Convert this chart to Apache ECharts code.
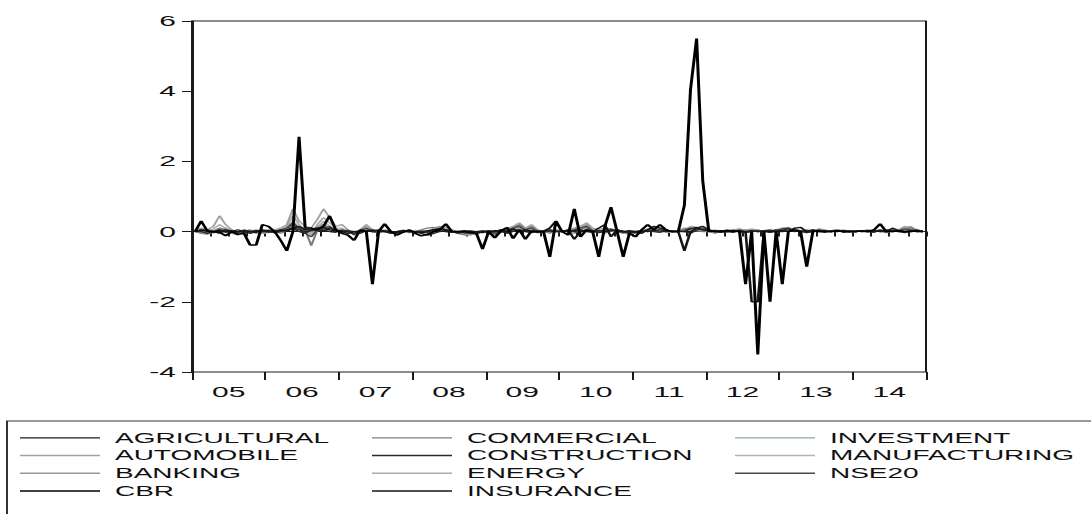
<!DOCTYPE html>
<html>
<head>
<meta charset="utf-8">
<script src="https://cdn.jsdelivr.net/npm/echarts@6/dist/echarts.min.js"></script>
<style>
html,body{margin:0;padding:0;background:#fff;overflow:hidden;}
#c{width:545.5px;height:514px;transform:scaleX(2);transform-origin:0 0;}
</style>
</head>
<body>
<div id="c"></div>
<script>
// monthly observations 2005M01 .. 2014M12
var years = ['2005','2006','2007','2008','2009','2010','2011','2012','2013','2014'];
var yearLabels = ['05','06','07','08','09','10','11','12','13','14'];
var months = [];
years.forEach(function (y) { for (var m = 1; m <= 12; m++) months.push(y + 'M' + (m < 10 ? '0' + m : m)); });

var yTicks = { min: -4, max: 6, interval: 2 };

var AGRICULTURAL = [
 0,0.05,0,-0.03,0,0.05,0.02,0,-0.02,0,0.03,0,
 0.02,0,0.05,0,0.10,0.05,0,0.03,0.05,0.02,0.10,0.05,
 0,0.02,0,-0.05,0.03,0,0.05,0.02,0,-0.03,0,0.02,
 -0.02,0,0.03,0.05,0.02,0,-0.02,0,0.03,0,-0.02,0,
 0,0.03,0,-0.02,0.05,0.03,0,-0.03,0.02,0,0.05,0,
 0.02,0,0.03,0.05,0,-0.02,0.03,0,0.05,0.02,0,-0.03,
 0,0.02,0,0.03,0.05,0,0.02,0,0,0.08,0.12,0.05,
 0.02,0,0.03,0,-0.02,0.02,0,0.03,0,0.02,0,0.05,
 0.03,0.08,0,0.02,0,0.03,0,-0.02,0.02,0,0.03,0,
 0,0.02,0.03,0,0.05,0,0.10,0.03,0,0.02,0.05,0];
var AUTOMOBILE = [
 0.05,0.10,0.05,0.15,0.45,0.20,0.05,0,-0.05,0,0.05,0.02,
 0,0.05,0.10,0.20,0.65,0.30,0.15,0.10,0.35,0.65,0.40,0.15,
 0.20,0.05,-0.05,0.05,0.20,0.05,0,0.05,0,-0.05,0.05,0,
 0.02,0,-0.05,0.10,0.15,0.12,0.05,0,-0.05,-0.10,-0.05,0,
 0.02,-0.05,0.05,0.10,0.15,0.25,0.10,0.20,0.05,0,0.05,0.02,
 0,0.05,0.10,0.15,0.25,0.10,0.05,0.10,0.05,0,-0.05,0,
 0.02,0,0.05,0.10,0.05,0,0.02,0,0.05,0.15,0.12,0.10,
 0.05,0,0.02,0.05,0,0.02,0.05,0.03,0,0.02,0,0.03,
 0.10,0.12,0.05,0,0.05,0.02,0.08,0.05,0,0.02,0.05,0,
 0.02,0,0.05,0.03,0,0.02,0.08,0.05,0.15,0.10,0.02,0];
var BANKING = [
 0,-0.05,-0.08,0,0.05,0.10,0.02,-0.03,-0.05,0,0.02,-0.05,
 -0.03,0,0.02,0.05,0.15,0.05,0.10,0,0.15,0.20,0.10,0.05,
 0,0.02,-0.05,0,0.05,0.02,-0.03,0,0.02,-0.05,0,0.03,
 0,-0.02,0,0.05,0.10,0.08,0,-0.05,-0.10,-0.08,-0.03,0,
 0,-0.08,-0.03,0,0.08,0.15,0.02,0.05,0,-0.03,0,0.02,
 0,0.03,0.05,0.10,0.20,0.05,0,0.02,0.05,-0.02,0,-0.05,
 -0.03,0,0.03,0.05,0,-0.02,0,0.02,0.05,0.08,0.10,0.03,
 0,0.03,0,0.05,0.02,0,0.03,0.05,0.02,0,0.03,0.02,
 0.05,0.08,0.03,0,0.05,0,0.03,0.02,0,0.05,0.02,0,
 0.03,0,0.02,0.05,0,0.03,0.05,0.02,0.08,0.12,0.03,0];
var CBR = [
 0,0.30,0.02,0,-0.02,-0.12,0,-0.08,-0.05,-0.38,-0.38,0.20,
 0.15,0,-0.25,-0.55,0,2.70,0.10,0.10,0.05,0.15,0.45,0.05,
 -0.05,-0.10,-0.25,0.05,0,-1.50,0,0.22,0,-0.10,-0.02,0.05,
 -0.05,-0.12,-0.08,0,0.05,0.22,0,0,0,-0.02,-0.05,-0.50,
 0,-0.18,0.02,0.12,-0.20,0.05,-0.22,0.02,0,-0.02,-0.72,0.30,
 0,-0.10,0.65,-0.15,0.05,0,-0.72,0.15,0.70,0,-0.72,-0.05,
 -0.15,0.05,0.20,0.05,0.20,0.05,0,0,0.75,4.05,5.50,1.45,
 0,0.02,0,0.03,0,0.02,-1.50,0,-3.50,0,-2.00,0,
 -1.50,0,0.05,0,-1.00,0,0.02,0,0,0.02,0,0,
 0,0.02,0,0.05,0.22,0,0,0.02,0,0,0.02,0];
var COMMERCIAL = [
 0,-0.05,0.05,0.02,0.10,0.05,-0.05,-0.10,0,0.05,-0.05,0,
 0.05,0,-0.05,0.02,0.20,0.10,0.05,-0.40,0.05,0.20,0.10,0.05,
 0,0.05,-0.10,0.05,0.10,0,-0.05,0.02,-0.05,0,0.02,-0.03,
 0,0.05,0.10,0.12,0.08,0,0.02,-0.05,-0.08,0,-0.05,0.02,
 0,-0.10,0.05,0,0.10,0.20,0.05,0.15,0.02,0,-0.05,0.05,
 0.03,0,-0.05,0.05,0.15,0,0.02,-0.05,0.05,0,0.02,-0.10,
 -0.05,0,0.08,0.02,0,0.05,0,0.02,0.10,0.05,0.02,0,
 0,-0.05,0.02,0,0.05,-0.03,0,0.02,0.05,0,0.03,0,
 0.05,0,0.10,0.02,0,-0.02,0.05,0,0.03,0.05,0,-0.02,
 0,0.03,0,0.05,0,-0.03,0.02,0,0.05,0.12,0,0];
var CONSTRUCTION = [
 0.02,0,-0.05,0,0.03,-0.02,0,0.05,0,-0.05,0,0.03,
 0,-0.03,0,0.05,0.08,0,-0.05,0.05,0.10,0.05,0,-0.02,
 0.03,0,-0.08,0,0.02,0,0.03,0,-0.05,0,0.02,0,
 0,-0.05,-0.10,-0.05,0,0.03,0,0,-0.03,-0.05,0,0.02,
 -0.02,0,0.03,-0.05,0,0.05,0.02,0,-0.03,0,0.02,0,
 0,0.03,0,-0.02,0.05,0,-0.03,0,0.02,0.05,0,0,
 -0.03,0,0.02,0,-0.02,0.03,0,0.02,0,-0.05,0.05,0.08,
 0.03,0,-0.02,0,0.02,0,-0.03,0,0.02,0,-0.02,0,
 0,0.02,0.03,0,-0.03,0,0.02,0,0,0.03,-0.02,0,
 0.02,0,0,-0.02,0.03,0,0.02,0,-0.03,0,0.02,0];
var ENERGY = [
 0.02,0.05,0,0.08,0.20,0.10,0,-0.05,0,0.02,0,-0.03,
 0,0.02,0.05,0.15,0.45,0.20,0.05,-0.10,0.20,0.40,0.25,0.10,
 0.10,0,-0.03,0.02,0.15,0.02,0,0.03,0,-0.05,0.02,0,
 0,0.02,0,0.05,0.10,0.05,0.02,-0.03,-0.05,-0.08,0,0.02,
 0,-0.03,0.02,0.05,0.12,0.20,0.08,0.12,0.02,0,0.03,0,
 0.02,0,0.08,0.12,0.20,0.05,0,0.05,0.02,0,-0.05,-0.02,
 0,0.02,0.05,0.08,0.03,0,0,0.02,0.03,0.10,0.10,0.05,
 0.02,0.05,0,0.03,0.05,0,0.02,0.08,0.03,0,0.02,0.05,
 0.10,0.12,0.03,0.02,0,0.05,0.03,0,0.02,0.05,0,0.02,
 0,0.02,0.05,0,0.03,0.02,0.05,0.03,0.12,0.15,0.05,0];
var INSURANCE = [
 0,0.05,0.03,-0.02,0.05,0,0.02,0,0.03,0,-0.02,0.05,
 0.02,0,0.03,0.05,0.10,0.15,0.05,0.08,0.10,0.12,0.05,0.02,
 0,-0.05,0,0.02,0,0.05,0.02,0,-0.02,0,0.03,0,
 0,-0.03,0,0.05,0.08,0.05,0,-0.02,0,0.02,0,-0.03,
 0.02,0,0.05,0,0.08,0,0.05,0.02,0,0.02,0.10,0.30,
 0,0.05,-0.22,0,0.05,0,0.10,0.20,-0.15,0.05,0,0.03,
 0,-0.05,0.05,0.15,0.10,0.05,0,0,-0.55,0,0.10,0.15,
 0.05,0,0.02,0,0.03,0,0,-2.00,-2.00,0,0.02,0,
 0.03,0,0.10,0.12,0,0.05,0,0.02,0,0.03,0,0.02,
 0,0.02,0,0.03,0,0.05,0,0.02,0,0.03,0,0];
var INVESTMENT = [
 0,0.02,-0.02,0,0.05,0.03,0,-0.02,0,0.02,0,0,
 0.02,0,0,0.05,0.10,0.05,0.02,0,0.05,0.10,0.05,0.02,
 0,0.02,0,-0.02,0.05,0,0.02,0,-0.02,0,0.02,0,
 0,-0.02,0,0.03,0.05,0.02,0,-0.02,-0.05,-0.03,0,0,
 0.02,-0.03,0,0.03,0.05,0.10,0.03,0.05,0,-0.02,0,0.02,
 0,0.02,0.03,0.05,0.10,0.02,0,0.02,0.03,0,-0.02,0,
 0,0.02,0,0.03,0.02,0,-0.02,0,0.02,0.05,0.03,0.02,
 0,0.02,0.03,0,0.05,0.08,0.03,0.05,0.02,0,0.02,0.03,
 0.08,0.10,0.05,0,0.02,0,0.03,0.02,0,0.03,0,0.02,
 0,0.02,0,0.03,0.02,0,0.03,0.02,0.05,0.08,0.02,0];
var MANUFACTURING = [
 0,-0.03,-0.05,0.02,0.10,0.05,-0.02,-0.05,-0.03,0,-0.02,-0.05,
 -0.02,0,0.03,0.08,0.30,0.10,0.05,-0.05,0.10,0.30,0.15,0.05,
 0.05,0,-0.05,0,0.08,0,-0.02,0,-0.03,-0.05,0,0.02,
 0,0,-0.03,0.03,0.08,0.05,0,-0.05,-0.08,-0.10,-0.03,0,
 0,-0.05,0,0.05,0.10,0.18,0.05,0.10,0,-0.02,0.02,0,
 0,0.02,0.05,0.08,0.15,0.03,-0.02,0.03,0.05,0,-0.03,-0.05,
 -0.02,0,0.03,0.05,0.02,0,-0.02,0,0.03,0.08,0.05,0.02,
 0,0.02,0,0.02,0.03,0,0.05,0.03,0,0.02,0.03,0,
 0.05,0.10,0.03,0,0.02,0.05,0,0.02,0.03,0,0.02,0,
 0.02,0,0.03,0,0.02,0.03,0.05,0,0.10,0.12,0.03,0];
var NSE20 = [
 0,0.03,0.05,0,-0.05,0.02,0,-0.03,0.05,0,0.02,0,
 -0.02,0,0.05,0.10,0.25,0.10,-0.05,-0.15,0.05,0.10,0.15,0,
 0.05,0,-0.05,0.02,0.10,0,-0.02,0.03,0,-0.05,0,0.02,
 0,0.02,-0.03,0.05,0.10,0.05,0,-0.05,0,-0.03,-0.08,0,
 0.02,-0.05,0,0.05,0.10,0.15,0.05,0.10,0,0.03,0,0.02,
 0,0.02,0.05,0.10,0.15,0.02,0,0.05,0.08,0,-0.03,0,
 0,0.02,0.05,0.03,0,0.02,0,0,0.03,0.10,0.08,0.05,
 0.02,0,-0.02,0.03,0,0.05,0,0.02,0,0.03,0.05,0,
 0.08,0.10,0.02,0,0.03,0,0.05,0.02,0,0.03,0.02,0,
 0,0.03,0.02,0,0.02,0,0.05,0.03,0.08,0.05,0,0.02];

var seriesDefs = [
  { name: 'MANUFACTURING', data: MANUFACTURING, color: '#b4b4b4', width: 1.1 },
  { name: 'ENERGY', data: ENERGY, color: '#acacac', width: 1.1 },
  { name: 'AUTOMOBILE', data: AUTOMOBILE, color: '#a2a2a2', width: 1.1 },
  { name: 'BANKING', data: BANKING, color: '#9a9a9a', width: 1.1 },
  { name: 'INVESTMENT', data: INVESTMENT, color: '#8ea8a0', width: 1.1 },
  { name: 'COMMERCIAL', data: COMMERCIAL, color: '#7c7c7c', width: 1.1 },
  { name: 'NSE20', data: NSE20, color: '#4a4a4a', width: 1.2 },
  { name: 'CONSTRUCTION', data: CONSTRUCTION, color: '#2a2a2a', width: 1.2 },
  { name: 'AGRICULTURAL', data: AGRICULTURAL, color: '#1e1e1e', width: 1.2 },
  { name: 'INSURANCE', data: INSURANCE, color: '#151515', width: 1.3 },
  { name: 'CBR', data: CBR, color: '#000000', width: 1.5 }
];

var legendCols = [
  ['AGRICULTURAL', 'AUTOMOBILE', 'BANKING', 'CBR'],
  ['COMMERCIAL', 'CONSTRUCTION', 'ENERGY', 'INSURANCE'],
  ['INVESTMENT', 'MANUFACTURING', 'NSE20']
];
var legendLeft = [10, 186, 367.5];

var FONT = "'Liberation Sans', Arial, sans-serif";

var chart = echarts.init(document.getElementById('c'), null, { renderer: 'svg' });
chart.setOption({
  animation: false,
  backgroundColor: '#ffffff',
  grid: { left: 96, right: 83, top: 21, bottom: 142, show: true, borderColor: '#1a1a1a', borderWidth: 1, backgroundColor: 'transparent' },
  xAxis: [
    {
      type: 'category', data: months, boundaryGap: true, position: 'bottom',
      axisLine: { show: true, lineStyle: { color: '#1a1a1a', width: 1 } },
      axisTick: { show: true, length: 5, interval: function (i) { return i % 3 === 0; }, lineStyle: { color: '#1a1a1a', width: 1 } },
      axisLabel: { show: false },
      splitLine: { show: false }
    },
    {
      type: 'category', data: yearLabels, boundaryGap: true, position: 'bottom', offset: 0,
      axisLine: { show: false },
      axisTick: { show: true, length: 8, interval: 0, lineStyle: { color: '#1a1a1a', width: 1 } },
      axisLabel: { show: true, interval: 0, margin: 12, fontFamily: FONT, fontSize: 15, color: '#111' },
      splitLine: { show: false }
    }
  ],
  yAxis: {
    type: 'value', min: yTicks.min, max: yTicks.max, interval: yTicks.interval,
    axisLine: { show: true, lineStyle: { color: '#1a1a1a', width: 1 } },
    axisTick: { show: true, length: 5, lineStyle: { color: '#1a1a1a', width: 1 } },
    axisLabel: { margin: 8, fontFamily: FONT, fontSize: 15, color: '#111' },
    splitLine: { show: false }
  },
  legend: legendCols.map(function (col, k) {
    return {
      data: col, orient: 'vertical', left: legendLeft[k], top: 429, padding: 0,
      icon: 'rect', itemWidth: 40, itemHeight: 1.4, itemGap: 0, selectedMode: false,
      textStyle: { fontFamily: FONT, fontSize: 14, color: '#111', lineHeight: 17.7, padding: [0, 0, 0, 2.5] }
    };
  }),
  graphic: [{
    type: 'rect', shape: { x: 3.5, y: 421, width: 600, height: 200 },
    style: { fill: 'none', stroke: '#333', lineWidth: 1 }, silent: true
  }],
  series: seriesDefs.map(function (s) {
    return {
      name: s.name, type: 'line', xAxisIndex: 0, data: s.data,
      symbol: 'none', smooth: false,
      lineStyle: { color: s.color, width: s.width },
      itemStyle: { color: s.color }
    };
  })
});
</script>
</body>
</html>
